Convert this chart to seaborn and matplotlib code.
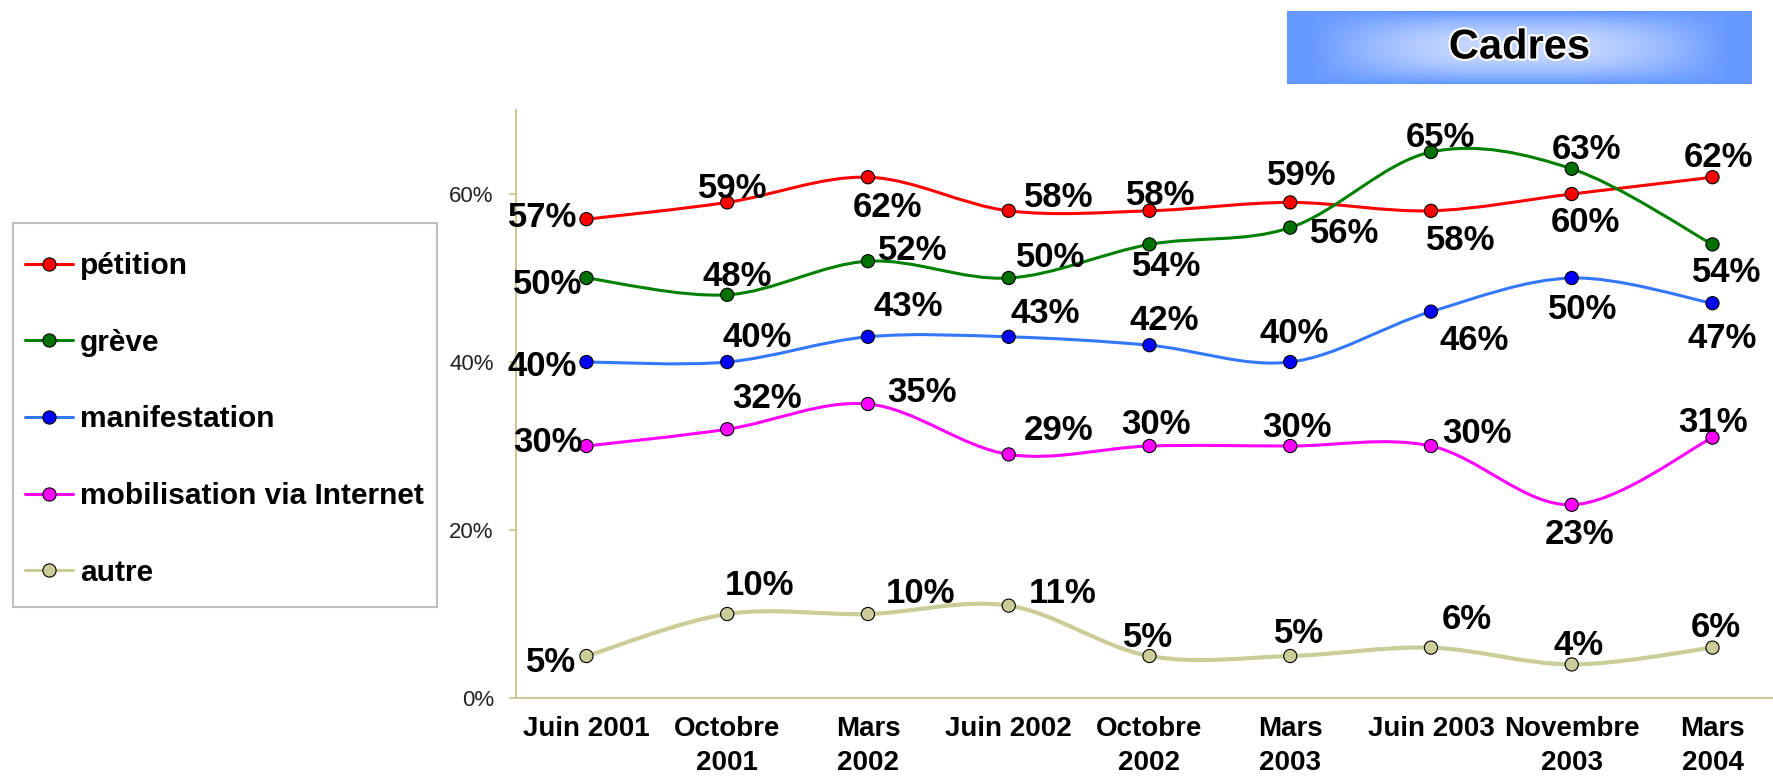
import numpy as np
import pandas as pd
import matplotlib
matplotlib.use('Agg')
import matplotlib.pyplot as plt
import seaborn as sns
from matplotlib.path import Path
from matplotlib.patches import PathPatch, Rectangle
from matplotlib.lines import Line2D
from matplotlib.ticker import FuncFormatter
import matplotlib.patheffects as pe

# donnees
periodes = ['Juin 2001', 'Octobre\n2001', 'Mars\n2002', 'Juin 2002', 'Octobre\n2002',
            'Mars\n2003', 'Juin 2003', 'Novembre\n2003', 'Mars\n2004']
series = ['pétition', 'grève', 'manifestation', 'mobilisation via Internet', 'autre']
petition = [57, 59, 62, 58, 58, 59, 58, 60, 62]
greve = [50, 48, 52, 50, 54, 56, 65, 63, 54]
manifestation = [40, 40, 43, 43, 42, 40, 46, 50, 47]
mobilisation = [30, 32, 35, 29, 30, 30, 30, 23, 31]
autre = [5, 10, 10, 11, 5, 5, 6, 4, 6]
valeurs = [petition, greve, manifestation, mobilisation, autre]

# styles
line_colors = ['#FF0000', '#008000', '#3377FF', '#FF00FF', '#CCCC99']
face_colors = ['#FF0000', '#007000', '#0000FF', '#FF00FF', '#CCCC99']
line_widths = [2.2, 2.2, 2.2, 2.2, 3.0]
olive = '#C8C896'

# decalage des etiquettes (px, vers le haut positif)
label_offsets = [
    [(-44, 5), (6, 17), (20, -27), (50, 16), (11, 18), (12, 30), (30, -27), (14, -25), (6, 23)],
    [(-39, -3), (10, 21), (45, 14), (42, 24), (17, -19), (54, -3), (9, 18), (15, 22), (14, -25)],
    [(-44, -1), (30, 28), (40, 33), (37, 26), (15, 28), (4, 32), (43, -26), (11, -28), (10, -32)],
    [(-38, 7), (40, 34), (54, 15), (50, 27), (6, 25), (7, 22), (46, 16), (8, -27), (1, 18)],
    [(-35, -3), (32, 32), (53, 24), (54, 15), (-1, 22), (9, 26), (36, 31), (7, 22), (3, 23)],
]

df = pd.DataFrame({
    'pos': list(range(len(periodes))) * len(series),
    'serie': [s for s in series for _ in periodes],
    'valeur': [v for vals in valeurs for v in vals],
})

sns.set_style('white')
plt.rcParams['font.family'] = ['Liberation Sans', 'DejaVu Sans']
plt.rcParams['text.color'] = 'black'

fig = plt.figure(figsize=(17.74, 7.78), dpi=100)
ax = fig.add_axes([0.2909, 0.1028, 1.005 - 0.2909, 0.8586 - 0.1028])


def smooth_path(xs, ys):
    pts = np.column_stack([xs, ys]).astype(float)
    n = len(pts)
    verts = [pts[0]]
    codes = [Path.MOVETO]
    for i in range(n - 1):
        p0 = pts[max(i - 1, 0)]
        p1 = pts[i]
        p2 = pts[i + 1]
        p3 = pts[min(i + 2, n - 1)]
        verts += [p1 + (p2 - p0) / 6, p2 - (p3 - p1) / 6, p2]
        codes += [Path.CURVE4] * 3
    return Path(verts, codes)


for k, s in enumerate(series):
    sub = df[df['serie'] == s]
    patch = PathPatch(smooth_path(sub['pos'], sub['valeur']), fill=False,
                      edgecolor=line_colors[k], lw=line_widths[k], zorder=2,
                      capstyle='round', joinstyle='round')
    ax.add_patch(patch)

sns.scatterplot(data=df, x='pos', y='valeur', hue='serie', palette=dict(zip(series, face_colors)),
                s=90, edgecolor='black', linewidth=0.8, legend=False, zorder=3, ax=ax)

for k, s in enumerate(series):
    for i, v in enumerate(valeurs[k]):
        dx, dy = label_offsets[k][i]
        ax.annotate(f'{v}%', (i, v), xytext=(dx * 0.72, (dy - 3) * 0.72),
                    textcoords='offset points', ha='center', va='center',
                    fontsize=25, fontweight='bold', color='black', zorder=4)

ax.set_xlim(-0.5, len(periodes) - 0.5)
ax.set_ylim(0, 70)
ax.set_xlabel('')
ax.set_ylabel('')
ax.set_xticks(range(len(periodes)))
ax.set_xticklabels(periodes, fontsize=20, fontweight='bold', color='black', linespacing=1.4)
ax.set_xticks(np.arange(-0.5, len(periodes), 1), minor=True)
ax.tick_params(axis='x', which='major', length=0, pad=13)
ax.tick_params(axis='x', which='minor', length=7, width=1.2, color=olive, direction='out')
ax.set_yticks([0, 20, 40, 60])
ax.yaxis.set_major_formatter(FuncFormatter(lambda v, p: f'{v:.0f}%'))
ax.tick_params(axis='y', length=5, width=1.2, color=olive, pad=11, labelsize=16,
               labelcolor='#222222', direction='out', left=True)
for side in ['top', 'right']:
    ax.spines[side].set_visible(False)
for side in ['left', 'bottom']:
    ax.spines[side].set_color(olive)
    ax.spines[side].set_linewidth(1.5)
ax.grid(False)

# legende
handles = [Line2D([], [], color=line_colors[k], lw=2.2, marker='o', markersize=9.5,
                  markerfacecolor=face_colors[k], markeredgecolor='black', markeredgewidth=0.8)
           for k in range(len(series))]
fig.patches.append(Rectangle((13 / 1774, 1 - 607 / 778), 424 / 1774, 384 / 778,
                             transform=fig.transFigure, fill=False, edgecolor='#C0C0C0', lw=1.5))
fig.legend(handles, series, loc='upper left', bbox_to_anchor=(25 / 1774, 1 - 252 / 778),
           frameon=False, borderpad=0, borderaxespad=0, handlelength=1.6, handletextpad=0.25,
           labelspacing=1.63, labelcolor='black', prop={'size': 21.5, 'weight': 'bold'})

# titre
tax = fig.add_axes([1287 / 1774, 1 - 84 / 778, 465 / 1774, 73 / 778])
gx = np.linspace(0, 1, 300)
gy = np.linspace(0, 1, 60)
hx = np.clip((np.abs(gx - 0.5) - 0.12) / 0.33, 0, 1)
vy = np.abs(gy - 0.5) * 2
b = (1 - hx[None, :] ** 1.5) * (1 - vy[:, None] ** 2)
edge = np.array([102, 153, 255]) / 255
centre = np.array([196, 214, 255]) / 255
img = edge + (centre - edge) * b[..., None]
tax.imshow(img, aspect='auto', extent=(0, 1, 0, 1))
tax.set_axis_off()
tax.text(0.5, 0.5, 'Cadres', ha='center', va='center', fontsize=30, fontweight='bold',
         color='black', path_effects=[pe.withStroke(linewidth=3, foreground='white')])

fig.savefig('out.png', dpi=100)
